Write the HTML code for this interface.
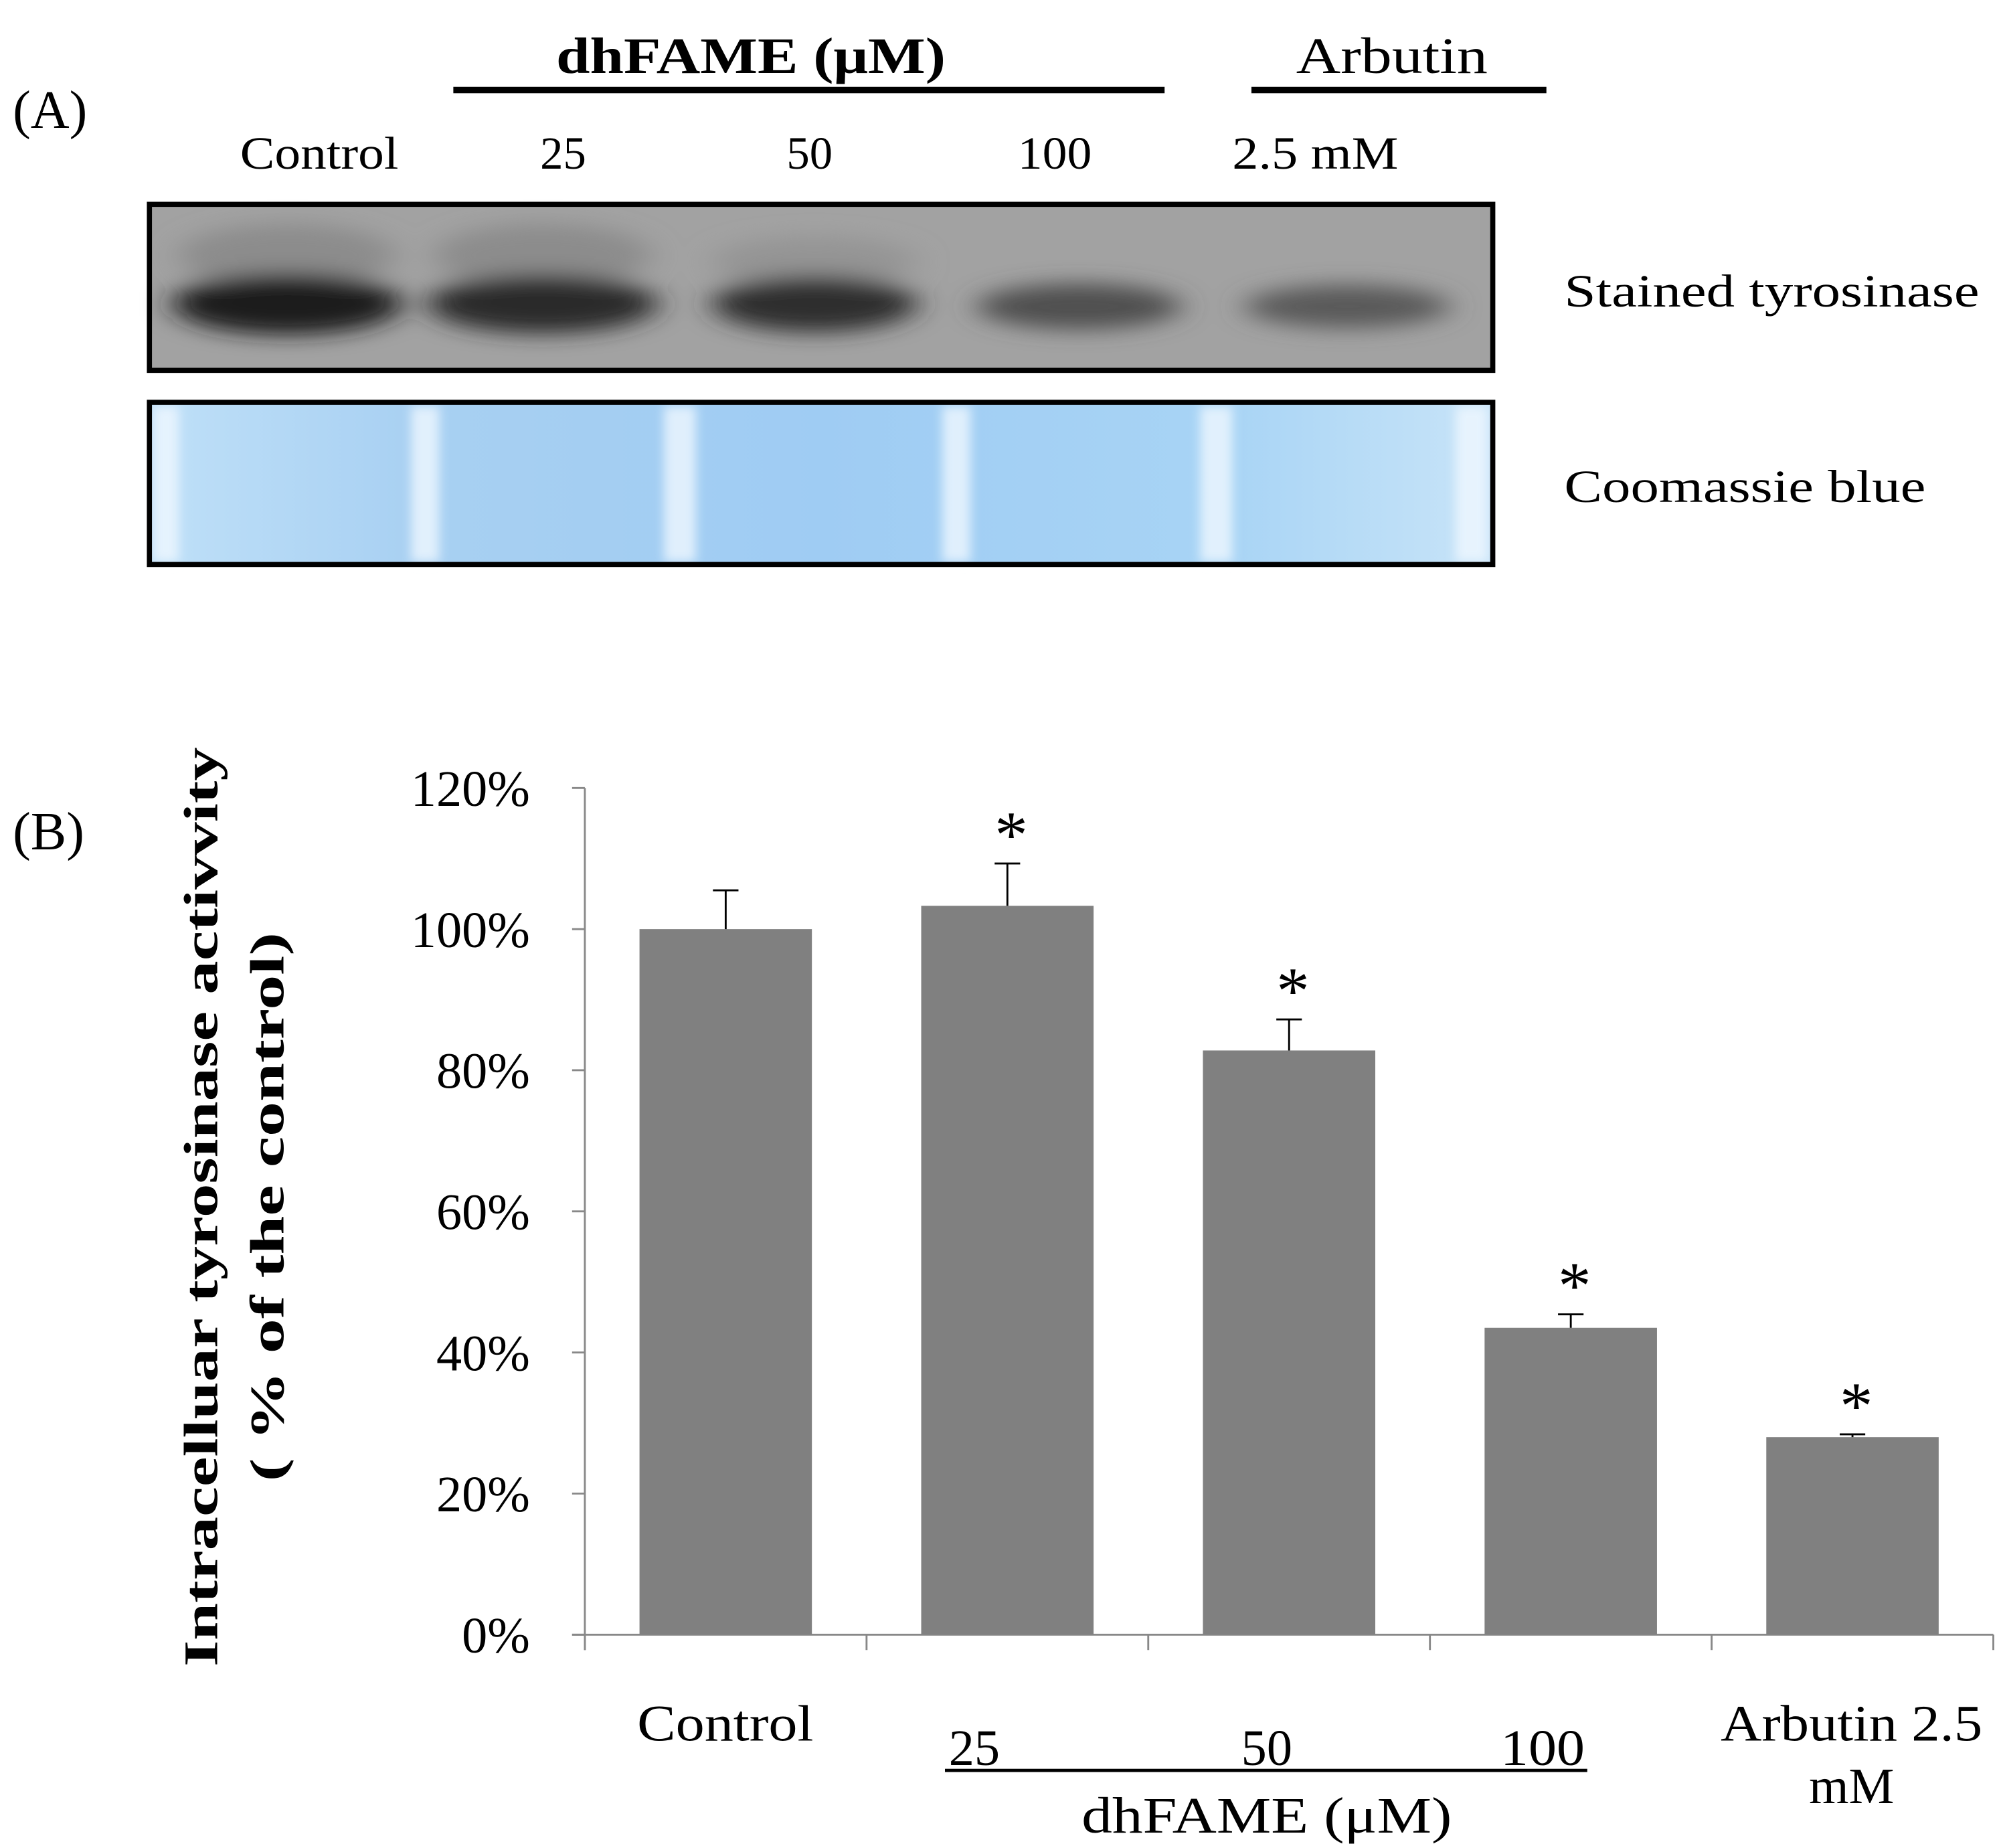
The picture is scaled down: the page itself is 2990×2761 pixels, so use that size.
<!DOCTYPE html>
<html><head><meta charset="utf-8"><style>
html,body{margin:0;padding:0;background:#fff;}
svg{display:block;font-family:"Liberation Serif",serif;}
</style></head><body>
<svg width="2990" height="2761" viewBox="0 0 1567 1447">
<defs>
<filter id="blur" x="-20%" y="-50%" width="140%" height="200%"><feGaussianBlur stdDeviation="12 8"/></filter>
<filter id="blur2"><feGaussianBlur stdDeviation="4"/></filter>
<linearGradient id="bluebg" x1="0" x2="1" y1="0" y2="0">
<stop offset="0" stop-color="#bfe0f8"/><stop offset="0.2" stop-color="#a8d0f2"/><stop offset="0.5" stop-color="#9fccf3"/><stop offset="0.8" stop-color="#a8d4f5"/><stop offset="1" stop-color="#c8e4f8"/>
</linearGradient>
</defs>
<g>
<text x="10" y="100" font-size="42">(A)</text>
<text x="588" y="57" font-size="40" font-weight="bold" text-anchor="middle" textLength="305" lengthAdjust="spacingAndGlyphs">dhFAME (μM)</text>
<rect x="355" y="68" width="557" height="5" fill="#000"/>
<text x="1090" y="57" font-size="40" text-anchor="middle" textLength="150" lengthAdjust="spacingAndGlyphs">Arbutin</text>
<rect x="980" y="68" width="231" height="5" fill="#000"/>
<text x="250" y="132" font-size="36" text-anchor="middle" textLength="124" lengthAdjust="spacingAndGlyphs">Control</text>
<text x="441" y="132" font-size="36" text-anchor="middle">25</text>
<text x="634" y="132" font-size="36" text-anchor="middle">50</text>
<text x="826" y="132" font-size="36" text-anchor="middle" textLength="58" lengthAdjust="spacingAndGlyphs">100</text>
<text x="1030" y="132" font-size="36" text-anchor="middle" textLength="130" lengthAdjust="spacingAndGlyphs">2.5 mM</text>
<g>
<rect x="117" y="160" width="1052" height="130" fill="#a2a2a2"/>
<g filter="url(#blur)">
<ellipse cx="225" cy="200" rx="85" ry="25" fill="#8c8c8c"/>
<ellipse cx="425" cy="200" rx="85" ry="25" fill="#8c8c8c"/>
<ellipse cx="638" cy="205" rx="80" ry="20" fill="#949494"/>
<ellipse cx="225" cy="238" rx="90" ry="24" fill="#1e1e1e"/>
<ellipse cx="425" cy="238" rx="90" ry="23" fill="#2a2a2a"/>
<ellipse cx="638" cy="238" rx="80" ry="22" fill="#2e2e2e"/>
<ellipse cx="845" cy="240" rx="80" ry="18" fill="#505050"/>
<ellipse cx="1055" cy="240" rx="80" ry="17" fill="#5a5a5a"/>
</g>
<rect x="117" y="160" width="1052" height="130" fill="none" stroke="#000" stroke-width="4"/>
</g>
<text x="1225" y="240" font-size="36" textLength="325" lengthAdjust="spacingAndGlyphs">Stained tyrosinase</text>
<g>
<rect x="117" y="315" width="1052" height="127" fill="url(#bluebg)"/>
<g filter="url(#blur2)" fill="#f0f8ff" opacity="0.8">
<rect x="322" y="318" width="22" height="122"/>
<rect x="520" y="318" width="25" height="122"/>
<rect x="738" y="318" width="22" height="122"/>
<rect x="940" y="318" width="25" height="122"/>
<rect x="1140" y="318" width="25" height="122"/>
<rect x="120" y="318" width="20" height="122"/>
</g>
<rect x="117" y="315" width="1052" height="127" fill="none" stroke="#000" stroke-width="4"/>
</g>
<text x="1225" y="393" font-size="36" textLength="283" lengthAdjust="spacingAndGlyphs">Coomassie blue</text>
</g>
<g id="chart">
<text x="10" y="665" font-size="42">(B)</text>
<g transform="translate(158,945) rotate(-90)">
<text x="0" y="12" font-size="38" font-weight="bold" text-anchor="middle" textLength="720" lengthAdjust="spacingAndGlyphs">Intracelluar tyrosinase activvity</text>
<text x="0" y="64" font-size="38" font-weight="bold" text-anchor="middle" textLength="430" lengthAdjust="spacingAndGlyphs">( % of the control)</text>
</g>
<text x="568" y="1363" font-size="40" text-anchor="middle" textLength="138" lengthAdjust="spacingAndGlyphs">Control</text>
<text x="763" y="1382" font-size="40" text-anchor="middle">25</text>
<text x="992" y="1382" font-size="40" text-anchor="middle">50</text>
<text x="1208" y="1382" font-size="40" text-anchor="middle" textLength="66" lengthAdjust="spacingAndGlyphs">100</text>
<rect x="740" y="1385" width="503" height="2.5" fill="#000"/>
<text x="992" y="1435" font-size="40" text-anchor="middle" textLength="290" lengthAdjust="spacingAndGlyphs">dhFAME  (μM)</text>
<text x="1450" y="1363" font-size="40" text-anchor="middle" textLength="205" lengthAdjust="spacingAndGlyphs">Arbutin 2.5</text>
<text x="1450" y="1412" font-size="40" text-anchor="middle">mM</text>
</g>
</svg>
<script>
const categories = ["Control","25","50","100","Arbutin 2.5 mM"];
const values = [100, 103.3, 82.8, 43.5, 28.0];
const errors = [5.5, 6.0, 4.4, 1.9, 0.4];
const significant = [false, true, true, true, true];
const yTicks = [0, 20, 40, 60, 80, 100, 120];
const tickLabels = ["0%","20%","40%","60%","80%","100%","120%"];

const NS = "http://www.w3.org/2000/svg";
const chart = document.getElementById("chart");
const X0 = 458, X1 = 1561, Y0 = 1280, Y1 = 617, YMAX = 120;
const bandW = (X1 - X0) / categories.length;
const barW = 135;
function y(v){ return Y0 - (v / YMAX) * (Y0 - Y1); }
function xc(i){ return X0 + bandW * (i + 0.5); }
function mk(tag, attrs){ const e = document.createElementNS(NS, tag); for (const k in attrs) e.setAttribute(k, attrs[k]); chart.appendChild(e); return e; }

const yaxis = mk("line", {x1:X0, x2:X0, y1:Y1, y2:Y0+12, stroke:"#888", "stroke-width":1.5});


const xaxis = mk("line", {x1:X0-10, x2:X1, y1:Y0, y2:Y0, stroke:"#888", "stroke-width":1.5});



yTicks.forEach((t, i) => {
  const tk = mk("line", {x1:X0-10, x2:X0, y1:y(t), y2:y(t), stroke:"#888", "stroke-width":1.5});
  
  
  const lb = mk("text", {x:415, y:y(t)+14, "font-size":40, "text-anchor":"end"});
  lb.textContent = tickLabels[i];
  
  
});
for (let i = 0; i <= categories.length; i++) {
  const xx = X0 + bandW * i;
  const tk = mk("line", {x1:xx, x2:xx, y1:Y0, y2:Y0+12, stroke:"#888", "stroke-width":1.5});
  
  
}
categories.forEach((c, i) => {
  const cx = xc(i);
  const b = mk("rect", {x:cx-barW/2, y:y(values[i]), width:barW, height:Y0-y(values[i]), fill:"#808080"});
  
  
  const et = y(values[i] + errors[i]);
  const e1 = mk("line", {x1:cx, x2:cx, y1:y(values[i]), y2:et, stroke:"#000", "stroke-width":1.5});
  
  
  const e2 = mk("line", {x1:cx-10, x2:cx+10, y1:et, y2:et, stroke:"#000", "stroke-width":1.5});
  
  
  if (significant[i]) {
    const s = mk("text", {x:cx+3, y:et-5, "font-size":52, "text-anchor":"middle"});
    s.textContent = "*";
    
    
  }
});
</script>
</body></html>
